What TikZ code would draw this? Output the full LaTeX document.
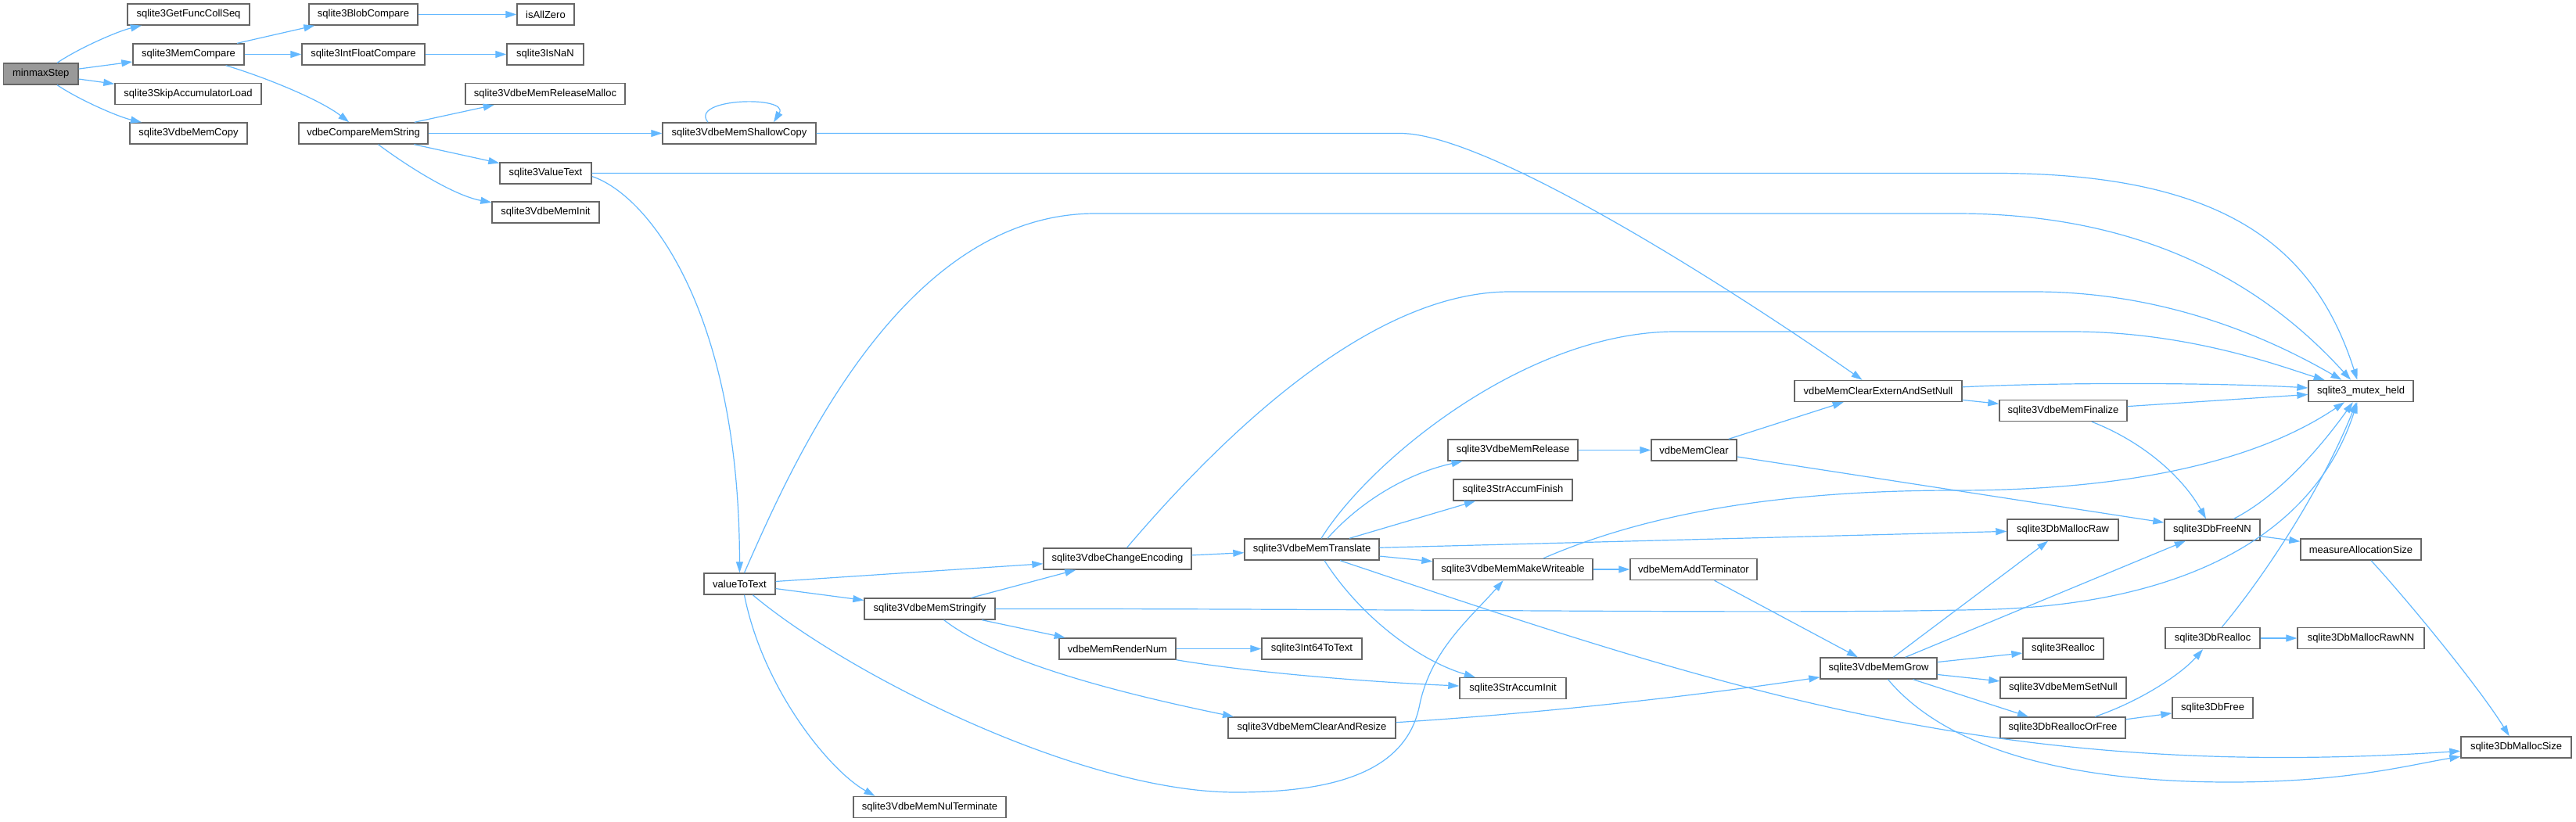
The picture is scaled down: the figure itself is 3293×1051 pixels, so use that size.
\documentclass[tikz,border=0pt]{standalone}
\usepackage{fontspec}
\setmainfont{Liberation Sans}
\usetikzlibrary{arrows.meta}
\definecolor{edgec}{HTML}{63B8FF}
\definecolor{bord}{HTML}{666666}
\definecolor{rootf}{HTML}{999999}
\begin{document}
\begin{tikzpicture}[x=1pt,y=-1pt,
  fn/.style={draw=bord, fill=white, line width=1.4pt, minimum height=27pt, inner xsep=2pt, inner ysep=0pt, font=\fontsize{13}{15}\selectfont},
  cg/.style={draw=edgec, line width=1.2pt, -{Triangle[length=14pt,width=9pt]}}]
\useasboundingbox (0,0) rectangle (3293,1051);
% nodes
\node[fn, fill=rootf, minimum width=95.5pt] (mm) at (52.25,94.5) {minmaxStep};
\node[fn, minimum width=156pt] (gfcs) at (241,18.5) {sqlite3GetFuncCollSeq};
\node[fn, minimum width=142pt] (mc) at (241,69.5) {sqlite3MemCompare};
\node[fn, minimum width=187pt] (sal) at (240.5,120) {sqlite3SkipAccumulatorLoad};
\node[fn, minimum width=150pt] (vmc) at (241,170.5) {sqlite3VdbeMemCopy};
\node[fn, minimum width=139pt] (bc) at (464.5,18.5) {sqlite3BlobCompare};
\node[fn, minimum width=157pt] (ifc) at (464.5,69.5) {sqlite3IntFloatCompare};
\node[fn, minimum width=165pt] (cms) at (464.5,170.5) {vdbeCompareMemString};
\node[fn, minimum width=73pt] (iaz) at (697.5,18.5) {isAllZero};
\node[fn, minimum width=98pt] (nan) at (697,69.5) {sqlite3IsNaN};
\node[fn, minimum width=204pt] (rm) at (697,120) {sqlite3VdbeMemReleaseMalloc};
\node[fn, minimum width=117pt] (vt) at (697.5,221.5) {sqlite3ValueText};
\node[fn, minimum width=137pt] (mi) at (697.5,271.5) {sqlite3VdbeMemInit};
\node[fn, minimum width=196pt] (sc) at (945,170.5) {sqlite3VdbeMemShallowCopy};
\node[fn, minimum width=91pt] (wt) at (945.5,746.5) {valueToText};
\node[fn, minimum width=189pt] (ce) at (1428.5,714.5) {sqlite3VdbeChangeEncoding};
\node[fn, minimum width=167pt] (ms) at (1188.5,778.5) {sqlite3VdbeMemStringify};
\node[fn, minimum width=149pt] (rn) at (1428.5,829.5) {vdbeMemRenderNum};
\node[fn, minimum width=214pt] (car) at (1677,930.5) {sqlite3VdbeMemClearAndResize};
\node[fn, minimum width=195pt] (nt) at (1188.5,1032) {sqlite3VdbeMemNulTerminate};
\node[fn, minimum width=172pt] (tr) at (1677,702.5) {sqlite3VdbeMemTranslate};
\node[fn, minimum width=128pt] (i64) at (1677,829.5) {sqlite3Int64ToText};
\node[fn, minimum width=166pt] (mr) at (1934,575.5) {sqlite3VdbeMemRelease};
\node[fn, minimum width=152pt] (saf) at (1934,626.5) {sqlite3StrAccumFinish};
\node[fn, minimum width=204pt] (mw) at (1934,728) {sqlite3VdbeMemMakeWriteable};
\node[fn, minimum width=136pt] (sai) at (1934,880) {sqlite3StrAccumInit};
\node[fn, minimum width=109pt] (mcl) at (2165.5,575.5) {vdbeMemClear};
\node[fn, minimum width=162pt] (at) at (2165,728) {vdbeMemAddTerminator};
\node[fn, minimum width=214pt] (cesn) at (2401,500) {vdbeMemClearExternAndSetNull};
\node[fn, minimum width=149pt] (mg) at (2401.5,854.5) {sqlite3VdbeMemGrow};
\node[fn, minimum width=163pt] (fin) at (2637.5,525) {sqlite3VdbeMemFinalize};
\node[fn, minimum width=142pt] (dmr) at (2637,677.5) {sqlite3DbMallocRaw};
\node[fn, minimum width=103pt] (rea) at (2637.5,829.5) {sqlite3Realloc};
\node[fn, minimum width=161pt] (sn) at (2637.5,879.5) {sqlite3VdbeMemSetNull};
\node[fn, minimum width=160pt] (rof) at (2637,930.5) {sqlite3DbReallocOrFree};
\node[fn, minimum width=134pt] (mh) at (3018,500) {sqlite3\_mutex\_held};
\node[fn, minimum width=122pt] (dfnn) at (2828,677.5) {sqlite3DbFreeNN};
\node[fn, minimum width=121pt] (dr) at (2828.5,816) {sqlite3DbRealloc};
\node[fn, minimum width=103pt] (df) at (2828.5,905) {sqlite3DbFree};
\node[fn, minimum width=154pt] (mas) at (3018,702.5) {measureAllocationSize};
\node[fn, minimum width=162pt] (dmrnn) at (3018,816) {sqlite3DbMallocRawNN};
\node[fn, minimum width=141pt] (dms) at (3216.5,955.5) {sqlite3DbMallocSize};
% edges
\draw[cg] (mm) .. controls (100,62) and (150,40) .. (gfcs);
\draw[cg] (mm) -- (mc);
\draw[cg] (mm) -- (sal);
\draw[cg] (mm) .. controls (100,127) and (150,149) .. (vmc);
\draw[cg] (mc) -- (bc);
\draw[cg] (mc) -- (ifc);
\draw[cg] (mc) .. controls (340,99) and (410,128) .. (cms);
\draw[cg] (bc) -- (iaz);
\draw[cg] (ifc) -- (nan);
\draw[cg] (cms) -- (rm);
\draw[cg] (cms) -- (sc);
\draw[cg] (cms) -- (vt);
\draw[cg] (cms) .. controls (520,212) and (580,250) .. (mi);
\draw[cg] ([xshift=-40pt]sc.north) .. controls (880,125) and (1010,122) .. ([xshift=44pt]sc.north);
\draw[cg] (sc.east) -- (1790,170.5) .. controls (1900,170.5) and (2200,360) .. (cesn);
\draw[cg] (vt.east) -- (2550,221.5) .. controls (2850,221.5) and (2960,320) .. (mh);
\draw[cg] ([yshift=-4pt]vt.east) .. controls (830,250) and (945,400) .. (wt);
\draw[cg] ([xshift=6pt]wt.north) .. controls (1010,600) and (1150,273) .. (1400,273) -- (2500,273) .. controls (2750,273) and (2900,370) .. (mh);
\draw[cg] (wt) -- (ce);
\draw[cg] (wt) -- (ms);
\draw[cg] (wt) .. controls (1080,860) and (1380,1013) .. (1580,1013) .. controls (1720,1013) and (1800,980) .. (1815,900) .. controls (1830,830) and (1880,790) .. (mw);
\draw[cg] ([xshift=6pt]wt.south) .. controls (975,880) and (1060,985) .. ([xshift=-70pt]nt.north);
\draw[cg] ([xshift=12pt]ce.north) .. controls (1560,560) and (1750,373) .. (1930,373) -- (2600,373) .. controls (2750,373) and (2880,420) .. (mh);
\draw[cg] (ce) -- (tr);
\draw[cg] (ms) -- (ce);
\draw[cg] (ms.east) .. controls (1800,778) and (2300,786) .. (2550,779) .. controls (2800,770) and (2960,680) .. (mh);
\draw[cg] (ms) -- (rn);
\draw[cg] (ms) .. controls (1280,850) and (1450,890) .. ([xshift=-100pt]car.north);
\draw[cg] (rn) -- (i64);
\draw[cg] (rn.south east) .. controls (1600,860) and (1750,872) .. (sai);
\draw[cg] (car) .. controls (2000,910) and (2200,885) .. (mg);
\draw[cg] ([xshift=12pt]tr.north) .. controls (1750,590) and (1950,424) .. (2142,424) -- (2648,424) .. controls (2800,424) and (2920,470) .. (mh);
\draw[cg] ([xshift=20pt]tr.north) .. controls (1740,640) and (1800,605) .. (mr);
\draw[cg] (tr) -- (saf);
\draw[cg] (tr) -- (dmr);
\draw[cg] (tr) -- (mw);
\draw[cg] ([xshift=16pt]tr.south) .. controls (1740,790) and (1815,845) .. (sai);
\draw[cg] ([xshift=36pt]tr.south) .. controls (2200,880) and (2550,1000) .. (dms);
\draw[cg] (mr) -- (mcl);
\draw[cg] (mcl) -- (cesn);
\draw[cg] (mcl) -- (dfnn);
\draw[cg] (cesn) .. controls (2650,488) and (2850,490) .. (mh);
\draw[cg] (cesn) -- (fin);
\draw[cg] (fin) -- (mh);
\draw[cg] (fin) .. controls (2740,565) and (2790,610) .. (dfnn);
\draw[cg] (dfnn) .. controls (2920,630) and (2975,560) .. (mh);
\draw[cg] (dfnn) -- (mas);
\draw[cg] (mas) .. controls (3080,770) and (3170,880) .. (dms);
\draw[cg] (mw) -- (at);
\draw[cg] ([xshift=39pt]mw.north) .. controls (2120,650) and (2300,627) .. (2500,627) .. controls (2750,627) and (2900,580) .. (mh);
\draw[cg] (at) -- (mg);
\draw[cg] (mg) -- (dmr);
\draw[cg] (mg) -- (dfnn);
\draw[cg] (mg) -- (rea);
\draw[cg] (mg) -- (sn);
\draw[cg] (mg) -- (rof);
\draw[cg] (mg) .. controls (2490,960) and (2650,1000) .. (2850,1000) .. controls (3000,1000) and (3080,978) .. (dms);
\draw[cg] (rof) .. controls (2740,895) and (2790,860) .. (dr);
\draw[cg] (rof) -- (df);
\draw[cg] (dr) -- (dmrnn);
\draw[cg] (dr) .. controls (2900,730) and (2970,620) .. (mh);
\end{tikzpicture}
\end{document}
